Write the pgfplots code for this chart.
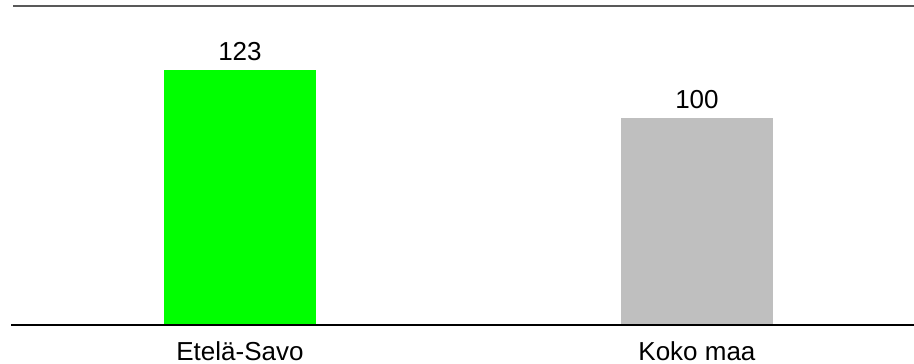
\documentclass[border=0pt]{standalone}
\usepackage{pgfplots}
\pgfplotsset{compat=1.18}
\usepackage{fontspec}
\setmainfont{Liberation Sans}
\definecolor{barGreen}{HTML}{00FF00}
\definecolor{barGray}{HTML}{BFBFBF}
\definecolor{lineGray}{HTML}{595959}
\begin{document}
\begin{tikzpicture}[x=1pt,y=1pt]
\path[use as bounding box] (0,0) rectangle (914,364);
\begin{axis}[
  at={(11.5pt,39pt)}, anchor=south west,
  scale only axis, width=902.5pt, height=319pt,
  xmin=-0.5, xmax=1.475, ymin=0, ymax=154,
  clip=false,
  axis line style={draw=none},
  tick style={draw=none},
  ytick=\empty,
  xtick={0,1},
  xticklabels={Etelä-Savo, Koko maa},
  xticklabel style={anchor=base, inner sep=0pt, yshift=-31.5pt, font=\fontsize{26}{30}\selectfont},
  ybar, bar width=152pt, bar shift=0pt,
  /pgf/number format/assume math mode=true,
  nodes near coords,
  every node near coord/.append style={anchor=south, inner sep=0pt, yshift=9pt, text=black, font=\fontsize{26}{30}\selectfont},
]
\addplot[draw=none, fill=barGreen] coordinates {(0,123)};
\addplot[draw=none, fill=barGray] coordinates {(1,100)};
\draw[black, line width=2pt] (rel axis cs:0,0) -- (rel axis cs:1,0);
\draw[lineGray, line width=2.5pt] (rel axis cs:0.002,1) -- (rel axis cs:1,1);
\end{axis}
\end{tikzpicture}
\end{document}
